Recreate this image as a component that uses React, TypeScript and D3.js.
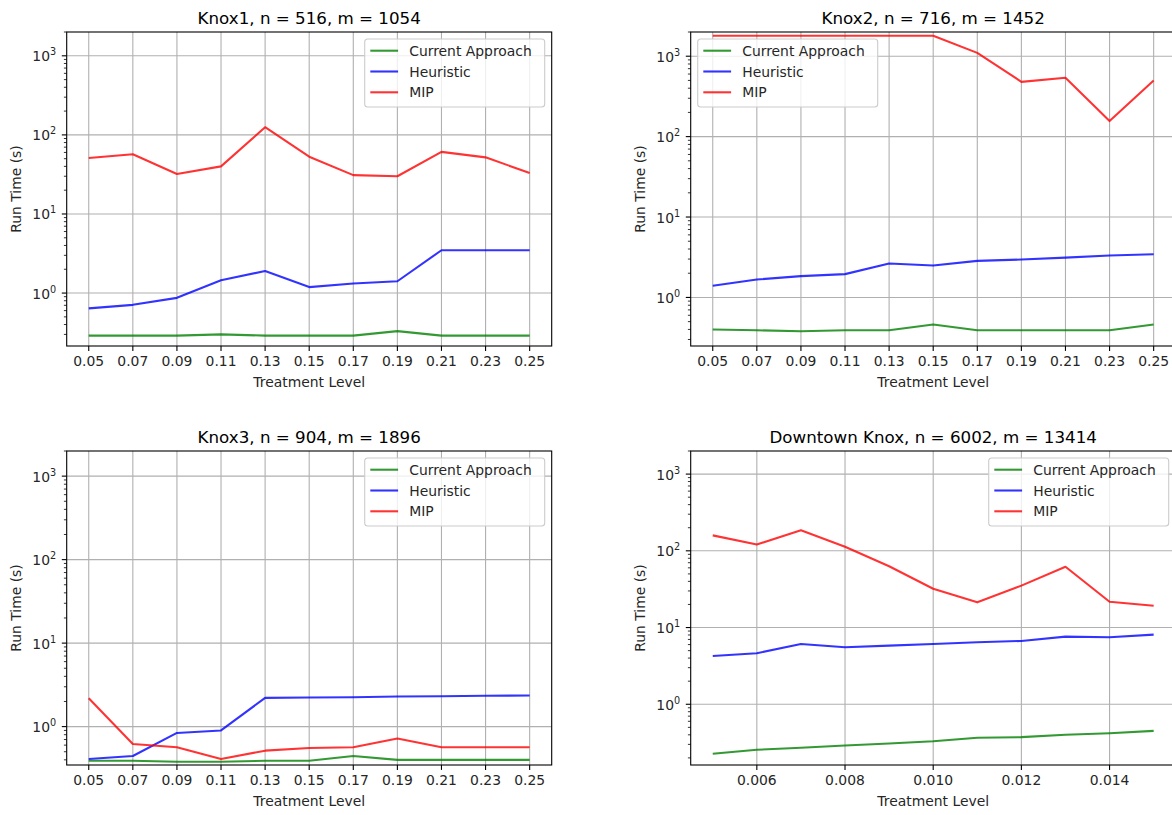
import React, { useEffect, useRef } from "react";
import * as d3 from "d3";

// ---------- data ----------
const levels = [0.05, 0.07, 0.09, 0.11, 0.13, 0.15, 0.17, 0.19, 0.21, 0.23, 0.25];
const levelTicks = [0.05, 0.07, 0.09, 0.11, 0.13, 0.15, 0.17, 0.19, 0.21, 0.23, 0.25];
const downtownLevels = [0.005, 0.006, 0.007, 0.008, 0.009, 0.01, 0.011, 0.012, 0.013, 0.014, 0.015];
const downtownTicks = [0.006, 0.008, 0.01, 0.012, 0.014];

const seriesNames = ["Current Approach", "Heuristic", "MIP"];
const seriesColors = ["#008000", "#0000ff", "#ff0000"];

const knox1Current = [0.29, 0.29, 0.29, 0.3, 0.29, 0.29, 0.29, 0.33, 0.29, 0.29, 0.29];
const knox1Heuristic = [0.64, 0.71, 0.87, 1.45, 1.9, 1.19, 1.32, 1.41, 3.48, 3.48, 3.48];
const knox1MIP = [51, 57, 32, 40, 125, 53, 31, 30, 61, 52, 33];

const knox2Current = [0.4, 0.39, 0.38, 0.39, 0.39, 0.46, 0.39, 0.39, 0.39, 0.39, 0.46];
const knox2Heuristic = [1.4, 1.67, 1.84, 1.95, 2.64, 2.49, 2.85, 2.96, 3.13, 3.32, 3.45];
const knox2MIP = [1800, 1800, 1800, 1800, 1800, 1800, 1100, 480, 540, 156, 500];

const knox3Current = [0.39, 0.39, 0.38, 0.38, 0.39, 0.39, 0.445, 0.4, 0.4, 0.4, 0.4];
const knox3Heuristic = [0.41, 0.445, 0.84, 0.9, 2.21, 2.23, 2.25, 2.29, 2.31, 2.34, 2.36];
const knox3MIP = [2.19, 0.62, 0.565, 0.41, 0.515, 0.555, 0.565, 0.72, 0.565, 0.565, 0.565];

const downtownCurrent = [0.226, 0.255, 0.271, 0.29, 0.308, 0.33, 0.366, 0.373, 0.4, 0.42, 0.45];
const downtownHeuristic = [4.26, 4.62, 6.11, 5.53, 5.81, 6.11, 6.44, 6.69, 7.62, 7.48, 8.09];
const downtownMIP = [159, 121, 185, 113, 63, 32, 21.3, 35.2, 62, 21.7, 19.2];

const titles = [
  "Knox1, n = 516, m = 1054",
  "Knox2, n = 716, m = 1452",
  "Knox3, n = 904, m = 1896",
  "Downtown Knox, n = 6002, m = 13414",
];
const yTop = 2000;

const FONT = "DejaVu Sans, sans-serif";

export default function App() {
  const ref = useRef<SVGSVGElement>(null);

  useEffect(() => {
    const svg = d3.select(ref.current);
    svg.selectAll("*").remove();

    const W = 485;
    const H = 314;
    const panels = [
      { left: 66.7, top: 32, x: levels, ticks: levelTicks, fmt: d3.format(".2f"), series: [knox1Current, knox1Heuristic, knox1MIP], title: titles[0], legend: "right" },
      { left: 690.7, top: 32, x: levels, ticks: levelTicks, fmt: d3.format(".2f"), series: [knox2Current, knox2Heuristic, knox2MIP], title: titles[1], legend: "left" },
      { left: 66.7, top: 451, x: levels, ticks: levelTicks, fmt: d3.format(".2f"), series: [knox3Current, knox3Heuristic, knox3MIP], title: titles[2], legend: "right" },
      { left: 690.7, top: 451, x: downtownLevels, ticks: downtownTicks, fmt: d3.format(".3f"), series: [downtownCurrent, downtownHeuristic, downtownMIP], title: titles[3], legend: "right" },
    ];

    panels.forEach((p, pi) => {
      const g = svg.append("g").attr("transform", `translate(${p.left},${p.top})`);
      const [xmin, xmax] = d3.extent(p.x) as [number, number];
      const xm = (xmax - xmin) * 0.05;
      const x = d3.scaleLinear().domain([xmin - xm, xmax + xm]).range([0, W]);
      const all = p.series.flat();
      const lmin = Math.log10(d3.min(all)!);
      const lmax = Math.log10(d3.max(all)!);
      const bottom = Math.pow(10, lmin - 0.05 * (lmax - lmin));
      const y = d3.scaleLog().domain([bottom, yTop]).range([H, 0]);

      const clipId = `clip${pi}`;
      g.append("clipPath").attr("id", clipId).append("rect").attr("width", W).attr("height", H);

      // grid
      const majorY: number[] = [];
      for (let k = -3; k <= 4; k++) {
        const v = Math.pow(10, k);
        if (v >= bottom && v <= yTop) majorY.push(k);
      }
      g.selectAll(".gx").data(p.ticks).enter().append("line")
        .attr("x1", (d) => x(d)).attr("x2", (d) => x(d)).attr("y1", 0).attr("y2", H)
        .attr("stroke", "#b0b0b0").attr("stroke-width", 1.1);
      g.selectAll(".gy").data(majorY).enter().append("line")
        .attr("x1", 0).attr("x2", W).attr("y1", (k) => y(Math.pow(10, k))).attr("y2", (k) => y(Math.pow(10, k)))
        .attr("stroke", "#b0b0b0").attr("stroke-width", 1.1);

      // lines
      const lineGen = d3.line<number>().x((_, i) => x(p.x[i])).y((d) => y(d));
      p.series.forEach((s, si) => {
        g.append("path").datum(s).attr("d", lineGen).attr("fill", "none")
          .attr("stroke", seriesColors[si]).attr("stroke-opacity", 0.8)
          .attr("stroke-width", 2.1).attr("stroke-linejoin", "round").attr("stroke-linecap", "butt")
          .attr("clip-path", `url(#${clipId})`);
      });

      // spines
      g.append("rect").attr("width", W).attr("height", H).attr("fill", "none")
        .attr("stroke", "#000").attr("stroke-width", 1.1);

      // x ticks
      p.ticks.forEach((t) => {
        g.append("line").attr("x1", x(t)).attr("x2", x(t)).attr("y1", H).attr("y2", H + 4.9)
          .attr("stroke", "#000").attr("stroke-width", 1.1);
        g.append("text").attr("x", x(t)).attr("y", H + 20.3).attr("text-anchor", "middle")
          .attr("font-family", FONT).attr("font-size", 13.9).attr("fill", "#262626").text(p.fmt(t));
      });
      // y major ticks + labels
      majorY.forEach((k) => {
        const yy = y(Math.pow(10, k));
        g.append("line").attr("x1", -4.9).attr("x2", 0).attr("y1", yy).attr("y2", yy)
          .attr("stroke", "#000").attr("stroke-width", 1.1);
        const t = g.append("text").attr("x", -10.5).attr("y", yy + 5.5).attr("text-anchor", "end")
          .attr("font-family", FONT).attr("font-size", 13.9).attr("fill", "#262626");
        t.append("tspan").text("10");
        t.append("tspan").attr("dy", -6).attr("font-size", 9.7).text(String(k));
      });
      // y minor ticks
      for (let k = -3; k <= 4; k++) {
        for (let m = 2; m <= 9; m++) {
          const v = m * Math.pow(10, k);
          if (v < bottom || v > yTop) continue;
          g.append("line").attr("x1", -2.8).attr("x2", 0).attr("y1", y(v)).attr("y2", y(v))
            .attr("stroke", "#000").attr("stroke-width", 0.8);
        }
      }

      // title
      g.append("text").attr("x", W / 2).attr("y", -8.5).attr("text-anchor", "middle")
        .attr("font-family", FONT).attr("font-size", 16.7).attr("fill", "#000").text(p.title);
      // x label
      g.append("text").attr("x", W / 2).attr("y", H + 41).attr("text-anchor", "middle")
        .attr("font-family", FONT).attr("font-size", 13.9).attr("fill", "#262626").text("Treatment Level");
      // y label
      g.append("text").attr("transform", `translate(-46,${H / 2}) rotate(-90)`)
        .attr("text-anchor", "middle").attr("font-family", FONT).attr("font-size", 13.9)
        .attr("fill", "#262626").text("Run Time (s)");

      // legend
      const lw = 180;
      const lh = 68;
      const lx = p.legend === "right" ? W - 7 - lw : 7;
      const ly = 7;
      const lg = g.append("g").attr("transform", `translate(${lx},${ly})`);
      lg.append("rect").attr("width", lw).attr("height", lh).attr("rx", 3)
        .attr("fill", "#fff").attr("fill-opacity", 0.8).attr("stroke", "#cccccc").attr("stroke-width", 1.1);
      seriesNames.forEach((name, si) => {
        const ry = 11.7 + si * 20.8;
        lg.append("line").attr("x1", 5.6).attr("x2", 33.4).attr("y1", ry).attr("y2", ry)
          .attr("stroke", seriesColors[si]).attr("stroke-opacity", 0.8).attr("stroke-width", 2.1);
        lg.append("text").attr("x", 44.5).attr("y", ry + 5).attr("font-family", FONT)
          .attr("font-size", 13.9).attr("fill", "#262626").text(name);
      });
    });
  }, []);

  return (
    <div style={{ position: "absolute", left: 0, top: 0, width: 1172, height: 815, overflow: "hidden", background: "#fff" }}>
      <svg ref={ref} width={1172} height={815} style={{ display: "block" }} />
    </div>
  );
}
